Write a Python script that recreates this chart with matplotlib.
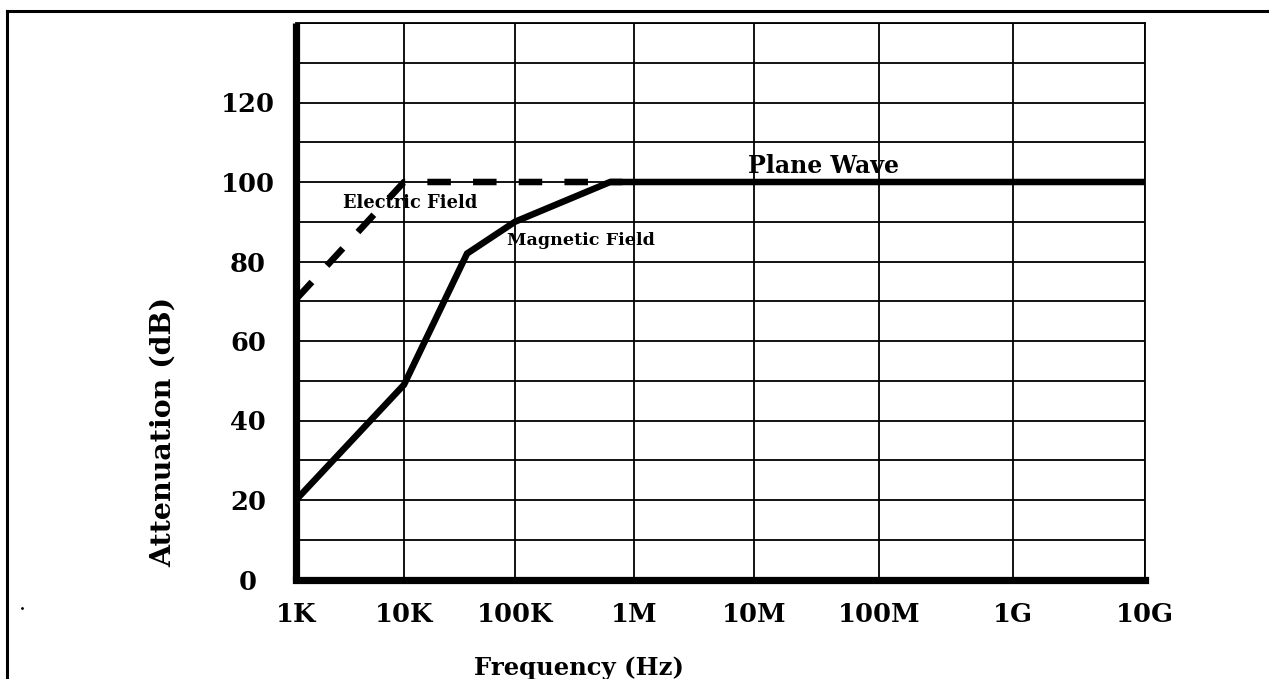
#! /usr/bin/python

# Shielding attenuation vs frequency (electric / magnetic field, plane wave)

import matplotlib
matplotlib.use('Agg')
import matplotlib.pyplot as plt
from matplotlib.lines import Line2D
import numpy as np

# tick values / labels
freq_ticks = [1e3, 1e4, 1e5, 1e6, 1e7, 1e8, 1e9, 1e10]
freq_labels = ['1K', '10K', '100K', '1M', '10M', '100M', '1G', '10G']
db_ticks = [0, 10, 20, 30, 40, 50, 60, 70, 80, 90, 100, 110, 120, 130, 140]
db_labels = ['0', '', '20', '', '40', '', '60', '', '80', '', '100', '', '120', '', '']

# curves
magnetic_f = [1e3, 1e4, 3.7e4, 1e5, 6.3e5, 1e10]
magnetic_db = [20, 49, 82, 90, 100, 100]
electric_f = [1e3, 1e4, 8e5]
electric_db = [70.5, 100, 100]

# the decades are not evenly spaced in the original drawing
decade_px = [296, 404, 515, 634, 754, 879, 1013, 1144.5]
decade_exp = np.log10(freq_ticks)

FONT = 'DejaVu Serif'


def fwd(x):
    with np.errstate(divide='ignore', invalid='ignore'):
        lx = np.log10(np.clip(np.asarray(x, dtype=float), 1e-300, None))
    return np.interp(lx, decade_exp, decade_px)


def inv(p):
    return 10 ** np.interp(np.asarray(p, dtype=float), decade_px, decade_exp)


def main():
    W, H = 1269, 679
    fig = plt.figure(figsize=(W / 100, H / 100), dpi=100)
    ax = fig.add_axes([296 / W, (H - 579.5) / H, (1144.5 - 296) / W, (579.5 - 23) / H])

    ax.set_xscale('function', functions=(fwd, inv))
    ax.set_xlim(1e3, 1e10)
    ax.set_ylim(0, 140)

    ax.set_xticks(freq_ticks)
    ax.set_xticklabels(freq_labels)
    ax.set_xticks([], minor=True)
    ax.set_yticks(db_ticks)
    ax.set_yticklabels(db_labels)
    ax.tick_params(axis='both', length=0)
    ax.tick_params(axis='x', pad=16)
    ax.tick_params(axis='y', pad=34.5)
    for lab in ax.get_xticklabels() + ax.get_yticklabels():
        lab.set_fontfamily(FONT)
        lab.set_fontweight('bold')
        lab.set_fontsize(18.5)
    for lab in ax.get_yticklabels():
        lab.set_horizontalalignment('center')

    ax.grid(True, color='black', linewidth=1.3)
    ax.set_axisbelow(True)

    for side in ['left', 'bottom']:
        ax.spines[side].set_linewidth(5.2)
    ax.spines['left'].set_capstyle('butt')
    for side in ['top', 'right']:
        ax.spines[side].set_linewidth(1.3)

    ax.plot(magnetic_f, magnetic_db, color='black', linewidth=4.7,
            solid_joinstyle='miter', solid_capstyle='butt', zorder=3)
    ax.plot(electric_f, electric_db, color='black', linewidth=4.7,
            linestyle=(0, (3.6, 3.4)), dash_capstyle='butt', zorder=3)

    ax.text(1.13e4, 94.7, 'Electric Field', fontfamily=FONT, fontweight='bold',
            fontsize=12.8, ha='center', va='center', zorder=4)
    ax.text(8.5e4, 85.4, 'Magnetic Field', fontfamily=FONT, fontweight='bold',
            fontsize=12.6, ha='left', va='center', zorder=4)
    ax.text(8.9e6, 104, 'Plane Wave', fontfamily=FONT, fontweight='bold',
            fontsize=17, ha='left', va='center', zorder=4)

    fig.text(163 / W, 1 - 432 / H, 'Attenuation (dB)', rotation=90,
             fontfamily=FONT, fontweight='bold', fontsize=20.5,
             ha='center', va='center')
    fig.text(579 / W, 1 - 675 / H, 'Frequency (Hz)',
             fontfamily=FONT, fontweight='bold', fontsize=17.5,
             ha='center', va='baseline')

    # outer frame (open at right and bottom, as in the original)
    fig.add_artist(Line2D([7 / W, 7 / W], [0, 1 - 11 / H], color='black',
                          linewidth=2.2, transform=fig.transFigure))
    fig.add_artist(Line2D([7 / W, 1], [1 - 11 / H, 1 - 11 / H], color='black',
                          linewidth=2.2, transform=fig.transFigure))
    fig.add_artist(Line2D([22 / W], [1 - 608 / H], color='black', marker='.',
                          markersize=2, linestyle='none', transform=fig.transFigure))

    fig.savefig('out.png', dpi=100)


if __name__ == '__main__': main()
